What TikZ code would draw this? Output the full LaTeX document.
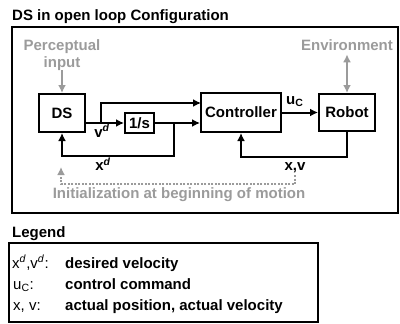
\documentclass[tikz,border=0pt]{standalone}
\usepackage{fontspec}
\setmainfont{Liberation Sans}
\usetikzlibrary{arrows.meta}
\definecolor{lg}{RGB}{155,155,155}
\tikzset{
  txt/.style={font=\fontsize{15}{17}\selectfont\bfseries, inner sep=0pt},
  rtxt/.style={font=\fontsize{15}{17}\selectfont, inner sep=0pt},
  blk/.style={draw, line width=2pt, inner sep=0pt, font=\fontsize{15}{17}\selectfont\bfseries},
  wire/.style={line width=2pt, -{Latex[length=8pt,width=8pt]}},
  gwire/.style={lg, line width=2pt, -{Latex[length=8pt,width=8pt]}},
  gdwire/.style={lg, line width=2pt, {Latex[length=8pt,width=8pt]}-{Latex[length=8pt,width=8pt]}},
  gdot/.style={lg, line width=2pt, dash pattern=on 2pt off 1.5pt, -{Latex[length=8pt,width=8pt]}},
}
\begin{document}
\begin{tikzpicture}[x=1pt,y=-1pt]
\useasboundingbox (0,0) rectangle (400,324);
% title and frame
\node[txt, anchor=base west] (title) at (12,20.5) {DS in open loop Configuration};
\node[draw, line width=2pt, minimum width=386pt, minimum height=186pt, inner sep=0pt] (frame) at (205,120) {};
% blocks
\node[blk, minimum width=46pt, minimum height=38pt] (ds) at (62,113) {DS};
\node[blk, minimum width=29pt, minimum height=20pt] (inv) at (139.5,123) {1/s};
\node[blk, minimum width=80pt, minimum height=39pt] (ctrl) at (241,112.5) {Controller};
\node[blk, minimum width=56pt, minimum height=37pt] (robot) at (347,112.5) {Robot};
% external inputs
\node[txt, text=lg, align=center, anchor=north] (perc) at (62,39) {Perceptual\\input};
\node[txt, text=lg, anchor=base] (env) at (347,50) {Environment};
\draw[gwire] (perc.south) -- (ds.north);
\draw[gdwire] ([yshift=-4pt]env.south) -- (robot.north);
% coordinates
\coordinate (dsout) at (85,123);
\coordinate (br1) at (101,123);
\coordinate (cin1) at (201,103);
\coordinate (br2) at (174,123);
\coordinate (fb1) at (62,156);
% connectors
\draw[wire] (dsout) -- (inv.west);
\draw[wire] (br1) |- (cin1);
\draw[wire] (inv.east) -- (ctrl.west |- inv.east);
\draw[wire] (br2) |- (fb1) -- (ds.south);
\draw[wire] (ctrl.east |- robot.west) -- (robot.west);
\draw[wire] (robot.south) -- ++(0,25) -| (ctrl.south);
% labels
\node[txt, anchor=base] (vd) at (102,137) {v\textsuperscript{\textit{d}}};
\node[txt, anchor=base] (xd) at (103,171) {x\textsuperscript{\textit{d}}};
\node[txt, anchor=base west] (uc) at (286,104) {u\textsubscript{C}};
\node[txt, anchor=base] (xv) at (295,171) {x,v};
% initialization
\coordinate (i1) at (295,175);
\coordinate (i2) at (295,184);
\coordinate (i3) at (61,184);
\coordinate (i4) at (61,167);
\draw[gdot] (i1) -- (i2) -- (i3) -- (i4);
\node[txt, text=lg, anchor=base] (init) at (179,198) {Initialization at beginning of motion};
% legend
\node[txt, anchor=base west] (legt) at (12,237.5) {Legend};
\node[draw, line width=2pt, minimum width=309pt, minimum height=79pt, inner sep=0pt] (legbox) at (163.5,282.5) {};
\node[rtxt, anchor=base west] (l1a) at (12,268) {x\textsuperscript{\textit{d}},v\textsuperscript{\textit{d}}:};
\node[txt, anchor=base west] (l1b) at (65,268) {desired velocity};
\node[rtxt, anchor=base west] (l2a) at (13,289) {u\textsubscript{C}:};
\node[txt, anchor=base west] (l2b) at (65,289) {control command};
\node[rtxt, anchor=base west] (l3a) at (13,310) {x, v:};
\node[txt, anchor=base west] (l3b) at (65,310) {actual position, actual velocity};
\end{tikzpicture}
\end{document}
